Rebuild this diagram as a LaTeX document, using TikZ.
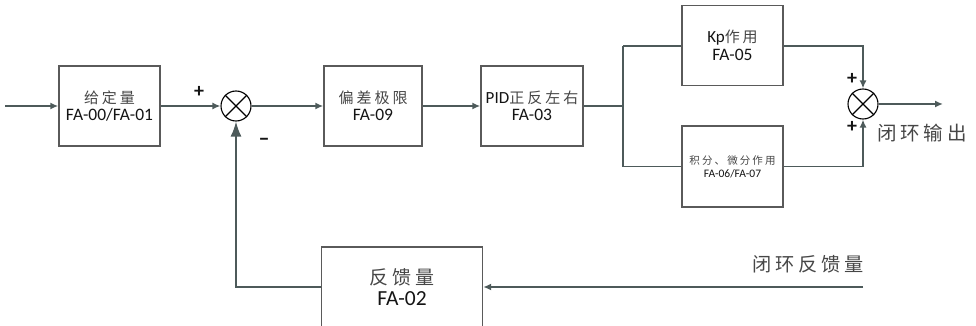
\documentclass[tikz,border=0pt]{standalone}
\usepackage{fontspec}
\setmainfont{Carlito}
\newfontfamily\cjk[LetterSpace=20]{Noto Sans CJK SC}
\usetikzlibrary{arrows.meta}
\definecolor{conncol}{RGB}{77,90,90}
\definecolor{boxcol}{RGB}{90,90,90}
\definecolor{cjkcol}{RGB}{70,70,70}
\definecolor{latcol}{RGB}{20,20,20}
\newcommand\cj[2]{{\fontsize{#1}{#1}\selectfont\cjk\color{cjkcol}#2}}
\newcommand\la[2]{{\fontsize{#1}{#1}\selectfont\color{latcol}#2}}
\begin{document}
\begin{tikzpicture}[x=1pt,y=-1pt,
  blk/.style={draw=boxcol,line width=1.4pt,rectangle,inner sep=0pt,align=center},
  sumc/.style={draw=black,line width=1.1pt,circle,minimum size=30pt,inner sep=0pt},
  conn/.style={draw=conncol,line width=1.8pt},
  arr/.style={-{Latex[length=8pt,width=7pt]}},
  bigarr/.style={-{Latex[length=15pt,width=11pt]}},
  sgn/.style={inner sep=0pt,font=\fontsize{20}{20}\selectfont\bfseries,text=latcol}]
\useasboundingbox (0,0) rectangle (976,326);
% blocks
\node[blk,minimum width=101pt,minimum height=80pt] (b1) at (109.5,106)
  {\cj{15}{给定量}\\[3pt]\la{17.5}{FA-00/FA-01}};
\node[sumc] (s1) at (236,106) {};
\node[blk,minimum width=98pt,minimum height=80pt] (b2) at (373,106)
  {\cj{15}{偏差极限}\\[3pt]\la{17.5}{FA-09}};
\node[blk,minimum width=102pt,minimum height=80pt] (b3) at (532,106)
  {\la{17}{PID}\cj{15}{正反左右}\\[3pt]\la{17.5}{FA-03}};
\node[blk,minimum width=101pt,minimum height=80pt] (kp) at (732.5,45.5)
  {\la{17}{Kp}\cj{15}{作用}\\[3pt]\la{17.5}{FA-05}};
\node[blk,minimum width=101pt,minimum height=81pt] (ki) at (732.5,166.5)
  {\cj{10.5}{积分、微分作用}\\[1pt]\la{11.5}{FA-06/FA-07}};
\node[sumc] (s2) at (863,104) {};
\node[blk,minimum width=161pt,minimum height=80pt] (fb) at (402,287)
  {\cj{19}{反馈量}\\[5pt]\la{21.5}{FA-02}};
% crosses
\draw[black,line width=1.1pt] (s1.45) -- (s1.225) (s1.135) -- (s1.315);
\draw[black,line width=1.1pt] (s2.45) -- (s2.225) (s2.135) -- (s2.315);
% texts
\node[inner sep=0pt,anchor=west] (outl) at (877,133) {\cj{19.5}{闭环输出}};
\node[inner sep=0pt,anchor=west] (fbl) at (752,264) {\cj{19.2}{闭环反馈量}};
\node[sgn] (p1) at (199,92) {+};
\node[sgn,font=\fontsize{22}{22}\selectfont\bfseries] (m1) at (264,142) {--};
\node[sgn] (p2) at (852,79) {+};
\node[sgn] (p3) at (852,127) {+};
% coordinates
\coordinate (in) at (5,106);
\coordinate (sp) at (623,106);
\coordinate (spt) at (623,46);
\coordinate (spb) at (623,166.5);
\coordinate (out) at (943,104);
\coordinate (fbin) at (863,287);
% connectors
\draw[conn,arr] (in) -- (b1.west);
\draw[conn,arr] (b1.east) -- (s1.west);
\draw[conn,arr] (s1.east) -- (b2.west);
\draw[conn,arr] (b2.east) -- (b3.west);
\draw[conn] (b3.east) -- (sp);
\draw[conn] (spt) -- (spb);
\draw[conn] (spt) -- (spt-|kp.west);
\draw[conn] (spb) -- (ki.west);
\draw[conn,arr] (spt-|kp.east) -| (s2.north);
\draw[conn,arr] (ki.east) -| (s2.south);
\draw[conn,arr] (s2.east) -- (out);
\draw[conn,arr] (fbin) -- (fb.east);
\draw[conn,bigarr] (fb.west) -| (s1.south);
\end{tikzpicture}
\end{document}
